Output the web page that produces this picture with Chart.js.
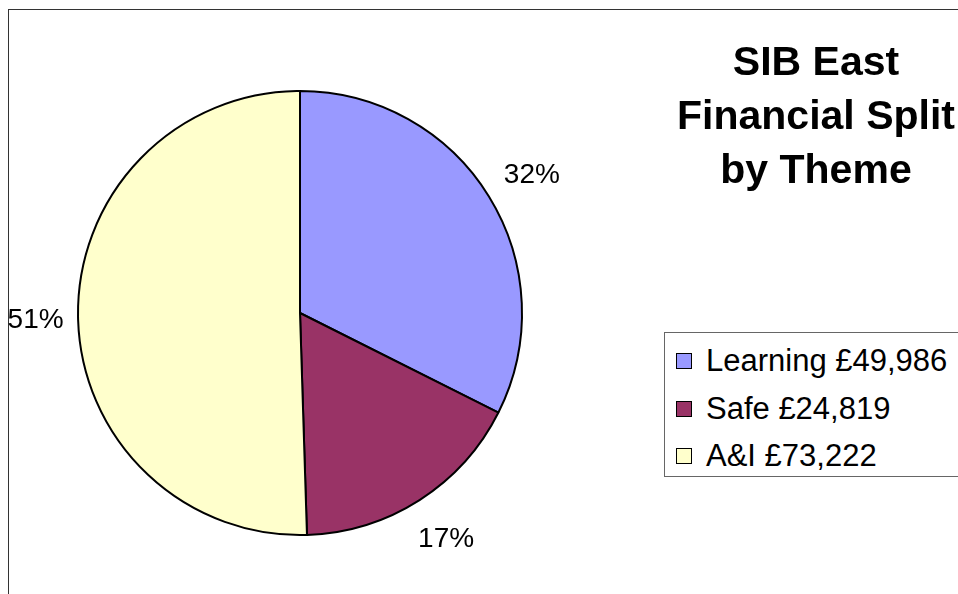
<!DOCTYPE html>
<html>
<head>
<meta charset="utf-8">
<script src="https://cdn.jsdelivr.net/npm/chart.js@4"></script>
<style>
    html, body { margin: 0; padding: 0; background: #fff; overflow: hidden; }
    #wrap { position: relative; width: 958px; height: 594px; font-family: Arial, "Liberation Sans", sans-serif; }
    #frame { position: absolute; left: 8px; top: 9px; width: 1000px; height: 700px; border: 1px solid #333; }
    #pie { position: absolute; left: 0; top: 0; }
    #title { position: absolute; left: 656px; top: 34px; width: 320px; text-align: center; font-weight: bold; font-size: 41px; line-height: 54px; color: #000; }
    #legend { position: absolute; left: 664px; top: 332px; width: 400px; height: 143px; border: 1px solid #666; background: #fff; }
    .item { position: absolute; left: 11px; height: 30px; font-size: 31px; line-height: 30px; color: #000; white-space: nowrap; }
    .item .box { position: absolute; left: 0; top: 7px; width: 14px; height: 14px; border: 1.5px solid #000; }
    .item .txt { position: absolute; left: 30px; top: 0; }
</style>
</head>
<body>
<div id="wrap">
    <div id="frame"></div>
    <canvas id="pie" width="958" height="594"></canvas>
    <div id="title">SIB East<br>Financial Split<br>by Theme</div>
    <div id="legend"></div>
</div>
<script>
var themes = ["Learning", "Safe", "A&I"];
var amounts = ["£49,986", "£24,819", "£73,222"];
var shares = [32.4, 17.1, 50.5];
var colours = ["#9999FF", "#993366", "#FFFFCC"];

// legend rows
var legend = document.getElementById("legend");
for (var i = 0; i < themes.length; i++) {
    var row = document.createElement("div");
    row.className = "item";
    row.style.top = (13 + i * 47.5) + "px";
    var box = document.createElement("span");
    box.className = "box";
    box.style.background = colours[i];
    var txt = document.createElement("span");
    txt.className = "txt";
    txt.textContent = themes[i] + " " + amounts[i];
    row.appendChild(box);
    row.appendChild(txt);
    legend.appendChild(row);
}

// percent labels outside the slices
var outsideLabels = {
    id: "outsideLabels",
    afterDatasetsDraw: function(chart) {
        var ctx = chart.ctx;
        var meta = chart.getDatasetMeta(0);
        var total = 0;
        for (var i = 0; i < shares.length; i++) total += shares[i];
        ctx.save();
        ctx.font = "28px Arial, 'Liberation Sans', sans-serif";
        ctx.fillStyle = "#000";
        ctx.textAlign = "center";
        ctx.textBaseline = "middle";
        for (var j = 0; j < meta.data.length; j++) {
            var arc = meta.data[j];
            var mid = (arc.startAngle + arc.endAngle) / 2;
            var label = Math.round(shares[j] / total * 100) + "%";
            var halfW = ctx.measureText(label).width / 2;
            var halfH = 16;
            var dx = Math.cos(mid), dy = Math.sin(mid);
            var dist = arc.outerRadius + 14 + halfW * Math.abs(dx) + halfH * Math.abs(dy);
            ctx.fillText(label, arc.x + dx * dist + 8 * Math.abs(dy) * dx, arc.y + dy * dist + 3);
        }
        ctx.restore();
    }
};

var chart = new Chart(document.getElementById("pie").getContext("2d"), {
    type: "pie",
    data: {
        labels: themes,
        datasets: [{
            data: shares,
            backgroundColor: colours,
            borderColor: "#000",
            borderWidth: 2
        }]
    },
    options: {
        responsive: false,
        animation: false,
        layout: { padding: { left: 77, top: 90, right: 435, bottom: 58 } },
        plugins: {
            legend: { display: false },
            tooltip: { enabled: false }
        }
    },
    plugins: [outsideLabels]
});
</script>
</body>
</html>
